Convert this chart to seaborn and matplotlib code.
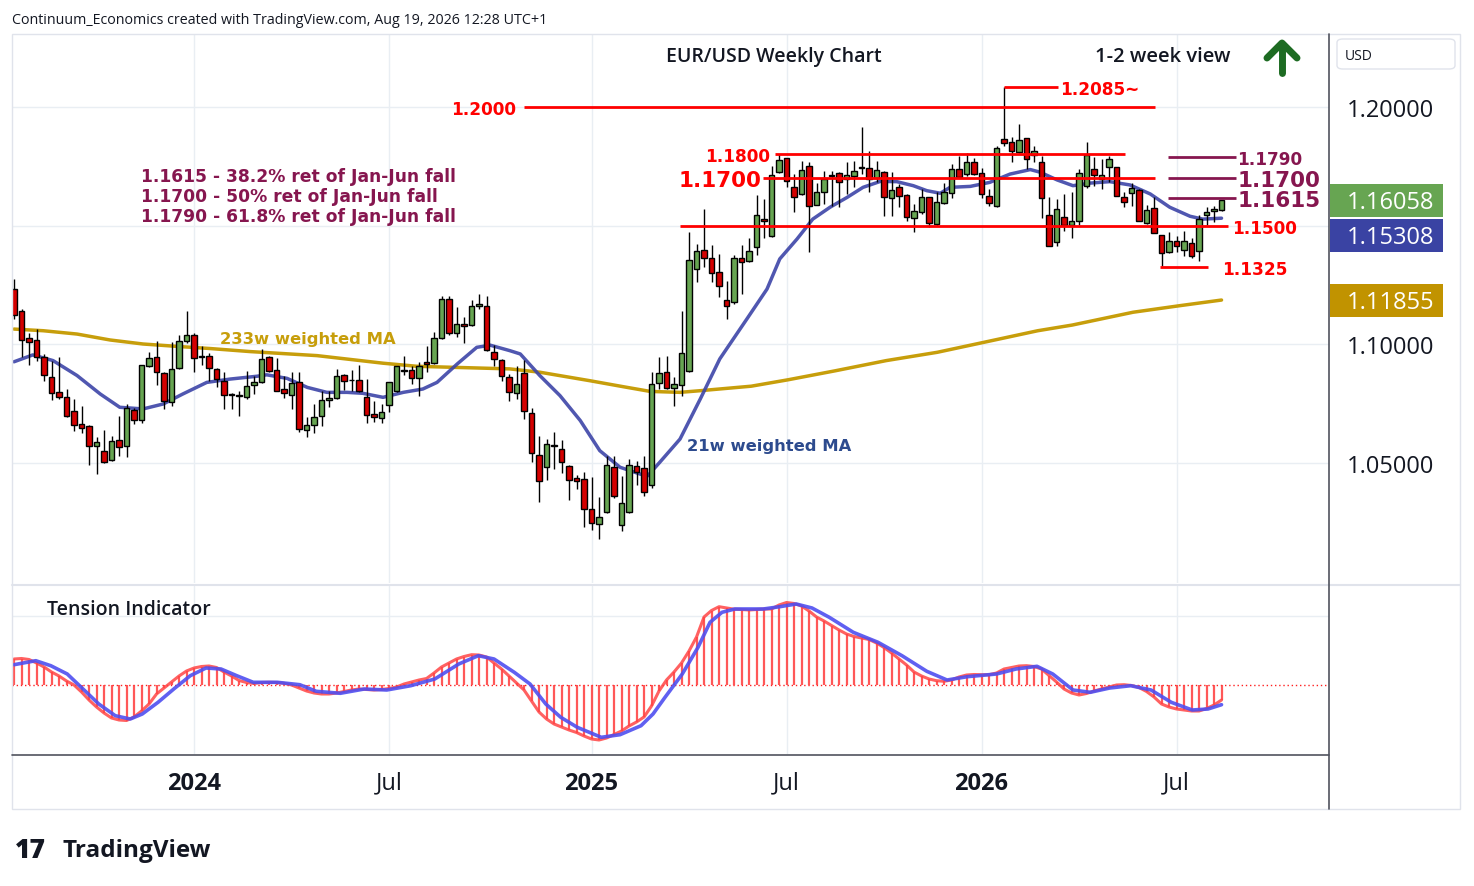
import numpy as np
import pandas as pd
import matplotlib
matplotlib.use('Agg')
import matplotlib.pyplot as plt
import seaborn as sns
from matplotlib.lines import Line2D
from matplotlib.patches import Rectangle, FancyBboxPatch

W, H = 1474, 887

# weekly EUR/USD candles, first bar = week of 17 Jul 2023
opens = [
    1.1232, 1.1138, 1.1025, 1.1017, 1.0944, 1.0859, 1.0796, 1.0775, 1.0716, 1.0662,
    1.0653, 1.0568, 1.0550, 1.0512, 1.0597, 1.0568, 1.0723, 1.0681, 1.0908, 1.0944,
    1.0876, 1.0757, 1.0897, 1.1011, 1.1038, 1.0945, 1.0951, 1.0895, 1.0843, 1.0787,
    1.0782, 1.0775, 1.0828, 1.0838, 1.0944, 1.0890, 1.0810, 1.0786, 1.0838, 1.0637,
    1.0658, 1.0695, 1.0764, 1.0772, 1.0869, 1.0849, 1.0848, 1.0775, 1.0705, 1.0687,
    1.0744, 1.0800, 1.0890, 1.0892, 1.0857, 1.0923, 1.0919, 1.1025, 1.1190, 1.1045,
    1.1084, 1.1080, 1.1162, 1.1159, 1.0965, 1.0932, 1.0860, 1.0792, 1.0878, 1.0709,
    1.0532, 1.0480, 1.0575, 1.0557, 1.0487, 1.0435, 1.0430, 1.0304, 1.0241, 1.0290,
    1.0480, 1.0236, 1.0290, 1.0487, 1.0476, 1.0405, 1.0835, 1.0881, 1.0813, 1.0827,
    1.0888, 1.1316, 1.1397, 1.1362, 1.1303, 1.1187, 1.1176, 1.1362, 1.1349, 1.1408,
    1.1527, 1.1454, 1.1724, 1.1783, 1.1664, 1.1633, 1.1753, 1.1588, 1.1640, 1.1710,
    1.1720, 1.1696, 1.1710, 1.1741, 1.1743, 1.1699, 1.1725, 1.1615, 1.1661, 1.1630,
    1.1532, 1.1556, 1.1619, 1.1506, 1.1594, 1.1636, 1.1738, 1.1717, 1.1767, 1.1720,
    1.1626, 1.1581, 1.1865, 1.1854, 1.1809, 1.1868, 1.1799, 1.1770, 1.1544, 1.1432,
    1.1535, 1.1503, 1.1521, 1.1665, 1.1738, 1.1696, 1.1746, 1.1746, 1.1619, 1.1636,
    1.1650, 1.1509, 1.1574, 1.1460, 1.1387, 1.1433, 1.1398, 1.1425, 1.1394, 1.1546,
    1.1560, 1.1565]
highs = [
    1.1274, 1.1148, 1.1045, 1.1063, 1.0958, 1.0930, 1.0944, 1.0810, 1.0768, 1.0740,
    1.0660, 1.0606, 1.0639, 1.0613, 1.0698, 1.0747, 1.0728, 1.0913, 1.0965, 1.1014,
    1.0880, 1.1010, 1.1038, 1.1138, 1.1045, 1.0993, 1.0960, 1.0900, 1.0881, 1.0793,
    1.0803, 1.0888, 1.0864, 1.0979, 1.0951, 1.0941, 1.0864, 1.0881, 1.0881, 1.0691,
    1.0747, 1.0803, 1.0803, 1.0895, 1.0872, 1.0892, 1.0913, 1.0852, 1.0758, 1.0747,
    1.0840, 1.0908, 1.0948, 1.0909, 1.0923, 1.0993, 1.1049, 1.1201, 1.1201, 1.1155,
    1.1113, 1.1186, 1.1211, 1.1204, 1.0997, 1.0935, 1.0873, 1.0906, 1.0934, 1.0730,
    1.0613, 1.0599, 1.0627, 1.0596, 1.0490, 1.0447, 1.0459, 1.0437, 1.0353, 1.0529,
    1.0529, 1.0442, 1.0515, 1.0505, 1.0526, 1.0883, 1.0944, 1.0951, 1.0859, 1.1141,
    1.1471, 1.1422, 1.1570, 1.1418, 1.1380, 1.1265, 1.1376, 1.1418, 1.1447, 1.1629,
    1.1612, 1.1752, 1.1802, 1.1785, 1.1717, 1.1773, 1.1767, 1.1678, 1.1729, 1.1731,
    1.1725, 1.1767, 1.1774, 1.1914, 1.1816, 1.1774, 1.1730, 1.1725, 1.1675, 1.1632,
    1.1591, 1.1654, 1.1622, 1.1640, 1.1679, 1.1759, 1.1792, 1.1806, 1.1785, 1.1741,
    1.1654, 1.1837, 1.2085, 1.1872, 1.1928, 1.1870, 1.1837, 1.1792, 1.1619, 1.1612,
    1.1633, 1.1640, 1.1738, 1.1851, 1.1788, 1.1781, 1.1795, 1.1748, 1.1640, 1.1679,
    1.1655, 1.1586, 1.1619, 1.1462, 1.1471, 1.1457, 1.1478, 1.1446, 1.1546, 1.1580,
    1.1584, 1.1609]
lows = [
    1.1105, 1.0946, 1.0913, 1.0930, 1.0845, 1.0765, 1.0770, 1.0691, 1.0634, 1.0624,
    1.0491, 1.0451, 1.0500, 1.0505, 1.0526, 1.0522, 1.0662, 1.0667, 1.0905, 1.0827,
    1.0726, 1.0740, 1.0895, 1.1005, 1.0881, 1.0913, 1.0845, 1.0817, 1.0726, 1.0726,
    1.0698, 1.0768, 1.0790, 1.0836, 1.0880, 1.0800, 1.0771, 1.0726, 1.0627, 1.0606,
    1.0624, 1.0653, 1.0733, 1.0770, 1.0807, 1.0803, 1.0798, 1.0667, 1.0673, 1.0667,
    1.0712, 1.0798, 1.0870, 1.0831, 1.0782, 1.0881, 1.0915, 1.1020, 1.1040, 1.1028,
    1.1003, 1.1075, 1.1148, 1.0972, 1.0906, 1.0845, 1.0761, 1.0768, 1.0684, 1.0501,
    1.0335, 1.0427, 1.0473, 1.0456, 1.0343, 1.0388, 1.0227, 1.0216, 1.0177, 1.0285,
    1.0350, 1.0213, 1.0285, 1.0405, 1.0360, 1.0391, 1.0810, 1.0810, 1.0737, 1.0780,
    1.0880, 1.1263, 1.1324, 1.1260, 1.1197, 1.1105, 1.1170, 1.1211, 1.1345, 1.1376,
    1.1447, 1.1450, 1.1720, 1.1661, 1.1558, 1.1630, 1.1389, 1.1585, 1.1591, 1.1581,
    1.1577, 1.1633, 1.1661, 1.1717, 1.1643, 1.1682, 1.1541, 1.1541, 1.1577, 1.1520,
    1.1471, 1.1550, 1.1492, 1.1500, 1.1590, 1.1616, 1.1700, 1.1710, 1.1712, 1.1616,
    1.1584, 1.1578, 1.1837, 1.1767, 1.1805, 1.1738, 1.1767, 1.1530, 1.1412, 1.1415,
    1.1478, 1.1446, 1.1503, 1.1660, 1.1668, 1.1654, 1.1682, 1.1623, 1.1577, 1.1584,
    1.1521, 1.1505, 1.1467, 1.1328, 1.1385, 1.1389, 1.1373, 1.1363, 1.1351, 1.1503,
    1.1513, 1.1560]
closes = [
    1.1124, 1.1017, 1.1007, 1.0944, 1.0870, 1.0792, 1.0775, 1.0698, 1.0660, 1.0644,
    1.0571, 1.0585, 1.0503, 1.0592, 1.0564, 1.0729, 1.0681, 1.0911, 1.0939, 1.0881,
    1.0761, 1.0895, 1.1011, 1.1038, 1.0940, 1.0950, 1.0897, 1.0852, 1.0785, 1.0785,
    1.0780, 1.0822, 1.0838, 1.0937, 1.0885, 1.0803, 1.0792, 1.0835, 1.0641, 1.0658,
    1.0691, 1.0764, 1.0772, 1.0867, 1.0845, 1.0847, 1.0800, 1.0702, 1.0691, 1.0712,
    1.0838, 1.0906, 1.0886, 1.0857, 1.0909, 1.0914, 1.1024, 1.1190, 1.1045, 1.1084,
    1.1075, 1.1159, 1.1168, 1.0975, 1.0937, 1.0864, 1.0796, 1.0831, 1.0716, 1.0540,
    1.0421, 1.0578, 1.0568, 1.0501, 1.0427, 1.0424, 1.0304, 1.0245, 1.0269, 1.0491,
    1.0357, 1.0329, 1.0491, 1.0459, 1.0374, 1.0831, 1.0876, 1.0814, 1.0831, 1.0961,
    1.1356, 1.1391, 1.1362, 1.1300, 1.1246, 1.1159, 1.1362, 1.1345, 1.1391, 1.1546,
    1.1518, 1.1714, 1.1776, 1.1686, 1.1622, 1.1736, 1.1584, 1.1640, 1.1696, 1.1715,
    1.1682, 1.1713, 1.1731, 1.1745, 1.1696, 1.1736, 1.1619, 1.1650, 1.1623, 1.1535,
    1.1560, 1.1619, 1.1509, 1.1598, 1.1640, 1.1738, 1.1706, 1.1767, 1.1717, 1.1633,
    1.1594, 1.1827, 1.1847, 1.1813, 1.1862, 1.1781, 1.1813, 1.1616, 1.1412, 1.1570,
    1.1503, 1.1518, 1.1720, 1.1797, 1.1714, 1.1714, 1.1781, 1.1623, 1.1598, 1.1657,
    1.1521, 1.1565, 1.1467, 1.1383, 1.1433, 1.1412, 1.1433, 1.1370, 1.1527, 1.1556,
    1.1570, 1.16058]

# moving averages (bar index, value)
ma21_idx = [0, 2.5, 5.2, 8.4, 11.5, 14.1, 17.2, 19.9, 22.5, 25.7, 28.8, 32.4, 33.7,
            36.4, 39.1, 41.7, 44.4, 46.5, 49.2, 51.9, 54.5, 56.4, 59.1, 61.7, 63.5,
            66.1, 67.5, 70.1, 72.8, 75.5, 78.1, 80.8, 83.5, 84.5, 86.1, 88.8, 91.5,
            94.1, 97.7, 100.4, 102.1, 104.4, 106.5, 108.8, 111.1, 113.2, 115.5, 117.7,
            119.9, 121.7, 123.5, 124.8, 127.5, 130.1, 132.8, 135.5, 136.8, 139.1,
            141.2, 143.5, 146.1, 148.8, 151.5, 154.1, 156.8, 158.5, 161]
ma21_val = [1.0925, 1.0954, 1.0930, 1.0867, 1.0789, 1.0733, 1.0726, 1.0747, 1.0789,
            1.0838, 1.0852, 1.0864, 1.0870, 1.0855, 1.0817, 1.0796, 1.0796, 1.0792,
            1.0775, 1.0796, 1.0810, 1.0838, 1.0916, 1.0986, 1.0995, 1.0972, 1.0958,
            1.0867, 1.0782, 1.0677, 1.0550, 1.0480, 1.0451, 1.0444, 1.0501, 1.0599,
            1.0768, 1.0937, 1.1105, 1.1232, 1.1359, 1.1443, 1.1527, 1.1577, 1.1619,
            1.1661, 1.1686, 1.1685, 1.1668, 1.1647, 1.1636, 1.1661, 1.1665, 1.1682,
            1.1717, 1.1736, 1.1725, 1.1692, 1.1668, 1.1679, 1.1685, 1.1671, 1.1633,
            1.1577, 1.1539, 1.1527, 1.15308]
ma233_idx = [0, 3.9, 8.4, 12.8, 17.2, 21.7, 26.1, 31.5, 40.4, 49.2, 53.7, 58.1, 66.1,
             70.1, 76.8, 81.2, 84.8, 88.8, 91.5, 98.3, 103.2, 109.5, 116.3, 123.1,
             129.3, 136.5, 141.1, 149.2, 155.5, 161]
ma233_val = [1.1063, 1.1056, 1.1042, 1.1017, 1.1000, 1.0990, 1.0981, 1.0968, 1.0951,
             1.0919, 1.0906, 1.0902, 1.0895, 1.0881, 1.0845, 1.0820, 1.0800, 1.0796,
             1.0803, 1.0822, 1.0849, 1.0887, 1.0930, 1.0965, 1.1007, 1.1056, 1.1080,
             1.1134, 1.1162, 1.11855]

# tension indicator (weekly red oscillator, lagging blue signal)
tension_red = [
    26, 26.5, 25.5, 22, 18, 13, 9, 4, 0, -7,
    -15, -22, -28, -33, -35, -35.5, -32, -26, -19, -9,
    -3, 3, 9, 14, 17, 18.5, 19, 17.5, 13, 9,
    4.5, 2.5, 1.5, 2.5, 2.7, 2.5, 1.7, 0, -3, -6,
    -8, -9, -9, -8, -6.5, -5, -4, -4.5, -5, -4.5,
    -3.5, -2, 1, 3, 5, 6.5, 12, 18, 22, 26,
    28.5, 30.3, 30, 28, 22, 16, 9, 2, -5, -16,
    -27, -34, -39, -42, -45, -47.5, -51, -54, -55, -53,
    -49.5, -46, -41, -37, -32, -21, -6, 5, 13, 22,
    34, 48, 68, 74.5, 78.3, 77, 75.8, 75.5, 75, 75.5,
    76, 76, 80, 82.5, 81.5, 79, 74, 68, 64, 59.5,
    55, 51, 48.5, 47, 45.5, 42, 37.5, 32, 26, 20,
    13, 9, 6, 4.3, 3.7, 5, 8, 10, 10.5, 10.3,
    10.3, 12, 16, 17.5, 19, 19.3, 18.5, 16, 9.5, 3,
    -4, -8, -10, -8.5, -6, -4, -2, 0, 0.3, -0.5,
    -2.5, -6.5, -12, -19, -22, -24, -25, -26, -26, -23.5,
    -20, -15]
tension_blue_idx = [0, 2.9, 4.9, 7.1, 9.2, 11.3, 13.5, 15.5, 17.1, 19.2, 21.3, 23.5,
                    25.6, 27.6, 29.7, 31.9, 35.1, 38.1, 40.3, 43.5, 46.7, 49.7, 52.9,
                    56.1, 59.3, 61.9, 64.0, 66.7, 68.8, 70.9, 72.9, 75.1, 78.3, 80.8,
                    83.6, 85.2, 86.8, 89.1, 91.2, 92.8, 94.4, 96.1, 99.9, 102.1, 104.3,
                    106.4, 108.7, 111.9, 115.2, 118.4, 121.7, 124.4, 127.1, 131.0,
                    133.6, 136.4, 138.5, 141.2, 143.5, 146.1, 148.9, 151.6, 154.3,
                    157.1, 159.2, 161]
tension_blue_val = [20.3, 24.3, 19.3, 11, -4, -19, -30.7, -34, -29, -17.3, -4, 9.3,
                    17, 16, 9.3, 2.7, 2.7, 0.3, -6.3, -8.3, -4, -5, -0.7, 6, 21,
                    29.3, 26, 12.7, 1, -19, -32.3, -42.3, -52.3, -49.7, -40.7, -29,
                    -12.3, 11, 37.7, 62.7, 72.7, 76, 76, 78.3, 81, 77, 67.7, 52.7,
                    42.7, 29.3, 13.7, 5, 8.3, 11, 16, 18.7, 11, -5, -7.3, -3, -0.7,
                    -5, -17.3, -25, -24, -19.7]

tick_idx = [24, 50, 77, 103, 129, 155]
tick_lbl = ['2024', 'Jul', '2025', 'Jul', '2026', 'Jul']

C_UP, C_DN = '#67a552', '#d40000'
C_MA21, C_MA233 = '#3d45a8', '#c79e0b'
C_PURP = '#86164f'
C_GRID = '#e9eef3'
C_TXT = '#131722'
VF = ['DejaVu Sans']          # verdana-like font used for the drawn annotations

sns.set_theme(style='white')
plt.rcParams['font.family'] = ['Open Sans', 'DejaVu Sans']

fig = plt.figure(figsize=(W / 100, H / 100), dpi=100)


def fx(px):
    return px / W


def fy(py):
    return 1 - py / H


ax = fig.add_axes([fx(12), fy(584), (1329 - 12) / W, (584 - 35) / H])
ax2 = fig.add_axes([fx(12), fy(755), (1329 - 12) / W, (755 - 587) / H])

df = pd.DataFrame({'open': opens, 'high': highs, 'low': lows, 'close': closes})
df['idx'] = np.arange(len(df))
up = df['close'] >= df['open']
body_lo = np.minimum(df['open'], df['close'])
body_h = np.maximum((df['close'] - df['open']).abs(), 0.0003)

XL = (-0.27, 175.33)

# ---- price panel ----
for t in tick_idx:
    ax.axvline(t, color=C_GRID, lw=1, zorder=0)
for v in [1.05, 1.10, 1.15, 1.20]:
    ax.axhline(v, color=C_GRID, lw=1, zorder=0)

sns.lineplot(x=ma233_idx, y=ma233_val, ax=ax, color=C_MA233, lw=2.5, zorder=2)
sns.lineplot(x=ma21_idx, y=ma21_val, ax=ax, color=C_MA21, lw=2.5, alpha=0.9, zorder=2)

ax.vlines(df['idx'], df['low'], df['high'], color='black', lw=1, zorder=3)
ax.bar(df['idx'], body_h, bottom=body_lo, width=0.68,
       color=np.where(up, C_UP, C_DN), edgecolor='black', linewidth=1, zorder=4)

# levels
red_levels = [(1.2000, 68, 152.1), (1.1800, 101.5, 148.1), (1.1700, 99.9, 152.1),
              (1.1500, 88.8, 161.9), (1.1325, 152.8, 159.2), (1.2085, 132, 139.2)]
for v, a, b in red_levels:
    ax.hlines(v, a, b, color='#ff0000', lw=2, zorder=5)
purple_levels = [1.1790, 1.1700, 1.1615]
for v in purple_levels:
    ax.hlines(v, 153.9, 162.9, color=C_PURP, lw=2, zorder=5)

lab_kw = dict(family=VF, fontweight='bold', va='center_baseline')
ax.text(66.9, 1.2000, '1.2000', color='#ff0000', fontsize=12.2, ha='right', **lab_kw)
ax.text(139.5, 1.2085, '1.2085~', color='#ff0000', fontsize=12.2, ha='left', **lab_kw)
ax.text(100.8, 1.1800, '1.1800', color='#ff0000', fontsize=12.2, ha='right', **lab_kw)
ax.text(99.7, 1.1700, '1.1700', color='#ff0000', fontsize=15.5, ha='right', **lab_kw)
ax.text(162.4, 1.1500, '1.1500', color='#ff0000', fontsize=12.2, ha='left', **lab_kw)
ax.text(161.1, 1.1325, '1.1325', color='#ff0000', fontsize=12.2, ha='left', **lab_kw)
ax.text(163.1, 1.1790, '1.1790', color=C_PURP, fontsize=12.2, ha='left', **lab_kw)
ax.text(163.1, 1.1700, '1.1700', color=C_PURP, fontsize=15.5, ha='left', **lab_kw)
ax.text(163.1, 1.1615, '1.1615', color=C_PURP, fontsize=15.5, ha='left', **lab_kw)

ax.set_xlim(*XL)
ax.set_ylim(0.99916, 1.2308)
ax.set_xticks([])
ax.yaxis.tick_right()
ax.set_yticks([1.05, 1.10, 1.15, 1.20])
ax.set_yticklabels(['1.05000', '1.10000', '', '1.20000'])
ax.tick_params(axis='y', length=0, pad=13, labelsize=17, labelcolor=C_TXT)
ax.set_xlabel('')
ax.set_ylabel('')
for s in ax.spines.values():
    s.set_visible(False)

# ---- tension panel ----
for t in tick_idx:
    ax2.axvline(t, color=C_GRID, lw=1, zorder=0)
ax2.axhline(69, color=C_GRID, lw=1, zorder=0)
ax2.axhline(0, color='#ff2020', lw=1, ls=(0, (1, 2)), zorder=1)
ax2.vlines(df['idx'], 0, tension_red, color='#ff3b3b', lw=1.6, alpha=0.85, zorder=2)
sns.lineplot(x=df['idx'], y=tension_red, ax=ax2, color='#ff4545', lw=2.2, alpha=0.85, zorder=3)
sns.lineplot(x=tension_blue_idx, y=tension_blue_val, ax=ax2, color='#4f4ff0', lw=2.6, alpha=0.9, zorder=4)
ax2.set_xlim(*XL)
ax2.set_ylim(-69, 99)
ax2.set_yticks([])
ax2.set_xticks(tick_idx)
ax2.set_xticklabels(tick_lbl)
ax2.tick_params(axis='x', length=0, pad=12, labelsize=17, labelcolor=C_TXT)
for lab in ax2.get_xticklabels():
    if lab.get_text().isdigit():
        lab.set_fontweight('bold')
ax2.set_xlabel('')
ax2.set_ylabel('')
for s in ax2.spines.values():
    s.set_visible(False)
fig.text(fx(47), fy(610), 'Tension Indicator', fontsize=14, fontweight='semibold',
         color=C_TXT, va='center', ha='left')

# ---- frame and separators ----
fig.add_artist(Rectangle((fx(12), fy(810)), (1460 - 12) / W, (810 - 35) / H,
                         transform=fig.transFigure, fill=False, edgecolor='#e0e3eb', lw=1))
fig.add_artist(Line2D([fx(12), fx(1460)], [fy(585.5), fy(585.5)], transform=fig.transFigure,
                      color='#e0e3eb', lw=1.5))
fig.add_artist(Line2D([fx(12), fx(1329)], [fy(756), fy(756)], transform=fig.transFigure,
                      color='#50535e', lw=1.2))
fig.add_artist(Line2D([fx(1329), fx(1329)], [fy(35), fy(810)], transform=fig.transFigure,
                      color='#50535e', lw=1.2))

# ---- right-axis value boxes ----
def px_of(v):
    yd = ax.transData.transform((0, v))[1]
    return H - yd


green_y = px_of(closes[-1])
box_specs = [(closes[-1], C_UP, green_y),
             (ma21_val[-1], '#3a43a3', green_y + 35),
             (ma233_val[-1], '#c19300', px_of(ma233_val[-1]))]
for v, col, cy in box_specs:
    fig.add_artist(Rectangle((fx(1330), fy(cy + 16.5)), 113 / W, 33 / H,
                             transform=fig.transFigure, color=col, lw=0))
    fig.text(fx(1347), fy(cy + 1.5), f'{v:.5f}', color='white', fontsize=17, va='center', ha='left')

fig.add_artist(FancyBboxPatch((fx(1337), fy(70)), 118 / W, 30 / H, transform=fig.transFigure,
                              boxstyle='round,pad=0,rounding_size=0.004', fill=False,
                              edgecolor='#e0e3eb', lw=1))
fig.text(fx(1345), fy(56), 'USD', fontsize=10, color=C_TXT, va='center', ha='left')

# ---- annotations ----
fig.text(fx(12), fy(20), 'Continuum_Economics created with TradingView.com, Aug 19, 2026 12:28 UTC+1',
         fontsize=10.3, color=C_TXT, va='center', ha='left')
fig.text(fx(774), fy(57), 'EUR/USD Weekly Chart', fontsize=14, fontweight='semibold',
         color=C_TXT, va='center', ha='center')
fig.text(fx(1163), fy(57), '1-2 week view', fontsize=14.5, fontweight='semibold',
         color=C_TXT, va='center', ha='center')
fig.add_artist(Line2D([fx(1282), fx(1282)], [fy(74), fy(45)], transform=fig.transFigure,
                      color='#1d6b22', lw=5, solid_capstyle='round'))
fig.add_artist(Line2D([fx(1267), fx(1282), fx(1297)], [fy(59), fy(44), fy(59)],
                      transform=fig.transFigure, color='#1d6b22', lw=5,
                      solid_capstyle='round', solid_joinstyle='round'))

for i, txt in enumerate(['1.1615 - 38.2% ret of Jan-Jun fall',
                         '1.1700 - 50% ret of Jan-Jun fall',
                         '1.1790 - 61.8% ret of Jan-Jun fall']):
    fig.text(fx(141), fy(175 + 20 * i), txt, fontsize=12.3, color=C_PURP,
             ha='left', **lab_kw)

fig.text(fx(220), fy(338), '233w weighted MA', fontsize=11.8, color=C_MA233, ha='left', **lab_kw)
fig.text(fx(687), fy(445), '21w weighted MA', fontsize=11.8, color='#2d4b8e', ha='left', **lab_kw)

# logo
fig.text(fx(15), fy(851), '17', fontsize=19, fontweight='heavy', color=C_TXT, va='center', ha='left')
fig.text(fx(62), fy(851), 'TradingView', fontsize=17.5, fontweight='bold', color=C_TXT,
         va='center', ha='left')

fig.savefig('out.png', dpi=100)
